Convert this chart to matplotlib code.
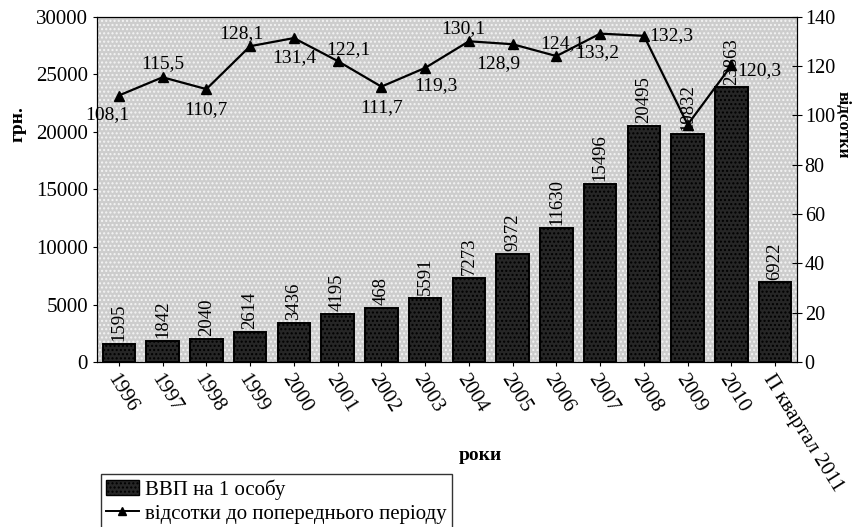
#!/usr/bin/env python3
"""GDP per capita bars + growth-rate line, twin axes."""
import matplotlib.pyplot as plt
from matplotlib.patches import Rectangle

plt.rcParams["font.family"] = ["Liberation Serif", "DejaVu Serif"]

years = ["1996", "1997", "1998", "1999", "2000", "2001", "2002", "2003",
         "2004", "2005", "2006", "2007", "2008", "2009", "2010", "П квартал 2011"]
gdp = [1595, 1842, 2040, 2614, 3436, 4195, 4681, 5591,
       7273, 9372, 11630, 15496, 20495, 19832, 23863, 6922]
gdp_labels = ["1595", "1842", "2040", "2614", "3436", "4195", "468", "5591",
              "7273", "9372", "11630", "15496", "20495", "19832", "23863", "6922"]
growth = [108.1, 115.5, 110.7, 128.1, 131.4, 122.1, 111.7, 119.3,
          130.1, 128.9, 124.1, 133.2, 132.3, 96.3, 120.3]

# label offsets (points) for the growth values
offsets = [(-8, -14), (0, 10), (0, -15), (-6, 9), (0, -14), (8, 8), (0, -15), (8, -13),
           (-4, 9), (-10, -14), (4, 9), (-2, -14), (20, 0), (0, -24), (20, -4)]

fig = plt.figure(figsize=(8.58, 5.27), dpi=100)
ax = fig.add_axes([0.113, 0.313, 0.816, 0.655])
ax.set_facecolor("#cdcdcd")
ax.add_patch(Rectangle((0, 0), 1, 1, transform=ax.transAxes, facecolor="none",
                       edgecolor="#f4f4f4", hatch="....", linewidth=0, zorder=0))

x = range(len(years))
ax.bar(x, gdp, width=0.74, color="#262626", edgecolor="black",
       hatch="....", linewidth=1.4, zorder=2)
for i, (v, s) in enumerate(zip(gdp, gdp_labels)):
    ax.text(i, v + 250, s, rotation=90, ha="center", va="bottom", fontsize=13.5, zorder=5)

ax.set_xlim(-0.5, len(years) - 0.5)
ax.set_ylim(0, 30000)
ax.set_yticks(range(0, 30001, 5000))
ax.set_xticks(list(x))
ax.set_xticklabels(years, rotation=-58, ha="left", rotation_mode="anchor", fontsize=15)
ax.tick_params(axis="y", labelsize=15, direction="out", length=3)
ax.tick_params(axis="x", length=3)
ax.set_ylabel("грн.", fontsize=14, fontweight="bold")
ax.yaxis.set_label_coords(-0.1, 0.69)
ax.set_xlabel("роки", fontsize=14, fontweight="bold")
ax.xaxis.set_label_coords(0.547, -0.246)

ax2 = ax.twinx()
ax2.plot(range(len(growth)), growth, color="black", linewidth=1.6,
         marker="^", markersize=7, zorder=4)
for i, (v, (dx, dy)) in enumerate(zip(growth, offsets)):
    txt = f"{v:.1f}".replace(".", ",")
    if i == 13:
        # this one sits behind the bars in the original
        ax.annotate(txt, (i, v), xycoords=ax2.transData, xytext=(dx, dy),
                    textcoords="offset points", ha="center", va="center",
                    fontsize=14, zorder=1.5)
        continue
    ax2.annotate(txt, (i, v), xytext=(dx, dy),
                 textcoords="offset points", ha="center", va="center", fontsize=14)
ax2.set_ylim(0, 140)
ax2.set_yticks(range(0, 141, 20))
ax2.tick_params(axis="y", labelsize=14.5, direction="inout", length=7, pad=2)
ax2.set_ylabel("відсотки", fontsize=12.5, fontweight="bold", rotation=-90)
ax2.yaxis.set_label_coords(1.077, 0.687)

for a in (ax, ax2):
    for sp in a.spines.values():
        sp.set_linewidth(0.8)

h1 = Rectangle((0, 0), 1, 1, facecolor="#262626", edgecolor="black", hatch="....")
h2, = ax2.plot([], [], color="black", marker="^", markersize=6, linewidth=1.4)
fig.legend([h1, h2], ["ВВП на 1 особу", "відсотки до попереднього періоду"],
           loc="upper left", bbox_to_anchor=(0.105, 0.12), fontsize=15,
           frameon=True, fancybox=False, edgecolor="black", handlelength=1.6,
           handletextpad=0.3, borderpad=0.25, labelspacing=0.2)

fig.savefig("out.png", dpi=100, facecolor="white")
